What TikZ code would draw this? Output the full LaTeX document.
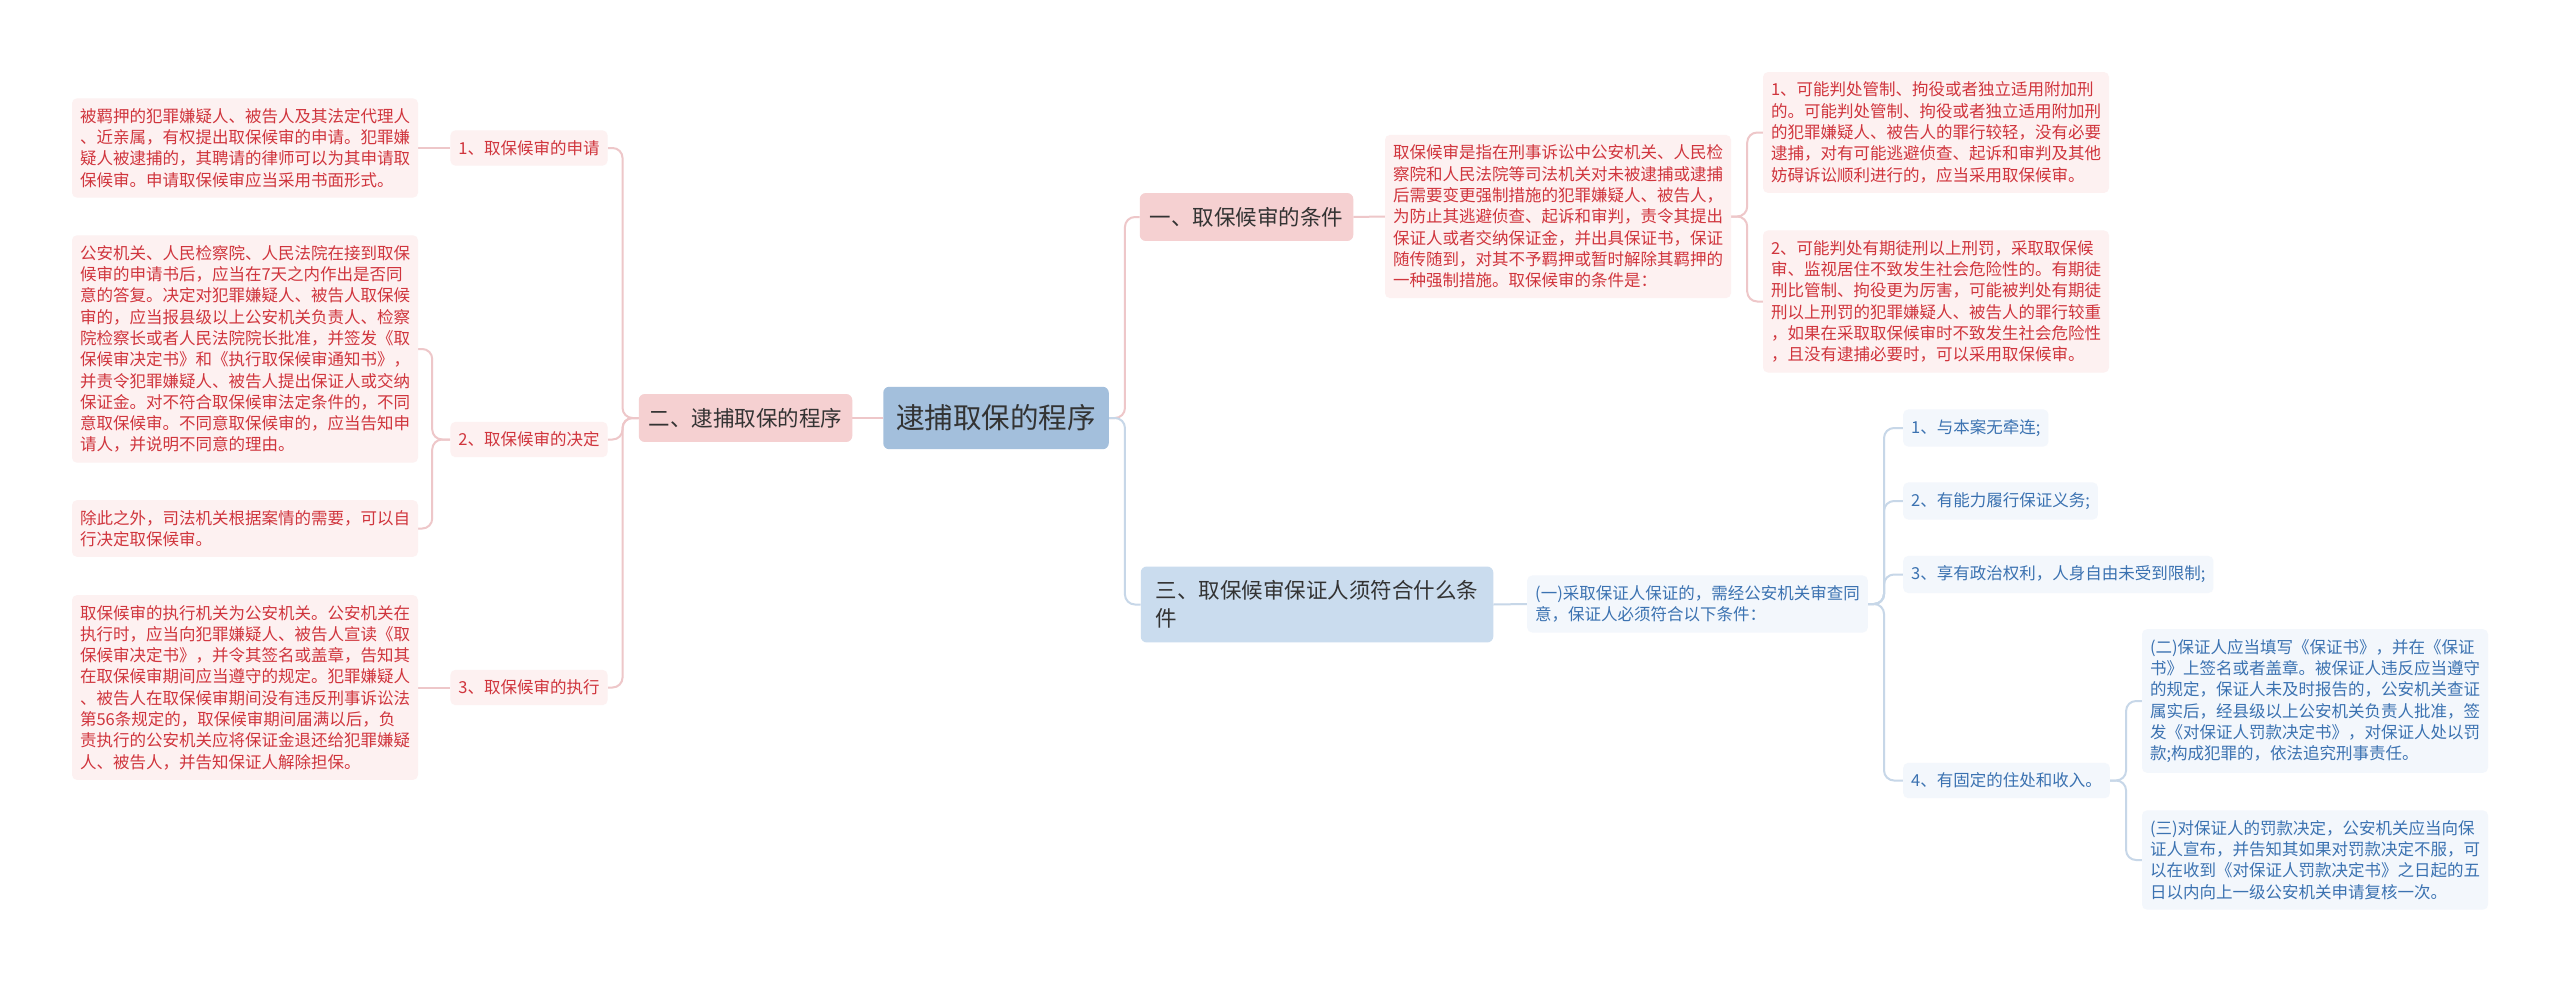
\documentclass[tikz,border=0pt]{standalone}
\usepackage{fontspec}
\setmainfont{Noto Sans CJK SC}
\usetikzlibrary{backgrounds}
\definecolor{leafpink}{HTML}{FDF1F1}
\definecolor{leafblue}{HTML}{F3F7FC}
\definecolor{redtext}{HTML}{D0353D}
\definecolor{bluetext}{HTML}{3B72B1}
\definecolor{darktext}{HTML}{333333}
\definecolor{lvlpinkfill}{HTML}{F5D0D1}
\definecolor{lvlbluefill}{HTML}{CADCEE}
\definecolor{rootfill}{HTML}{A3BFDC}
\definecolor{pinkline}{HTML}{EEC7C9}
\definecolor{blueline}{HTML}{C7D7E8}
\tikzset{
 pbox/.style={fill=leafpink, text=redtext, rounded corners=5pt, inner xsep=8pt, inner ysep=10pt, align=left, font=\fontsize{16.5pt}{21.3pt}\selectfont},
 bbox/.style={pbox, fill=leafblue, text=bluetext},
 lvlpink/.style={fill=lvlpinkfill, text=darktext, rounded corners=6pt, inner xsep=10pt, inner ysep=14pt, align=left, font=\fontsize{21.5pt}{28pt}\selectfont},
 lvlblue/.style={lvlpink, fill=lvlbluefill},
 rootbox/.style={fill=rootfill, text=darktext, rounded corners=6pt, inner xsep=13pt, inner ysep=18pt, font=\fontsize{28.5pt}{34pt}\selectfont},
 pline/.style={draw=pinkline, line width=2pt, rounded corners=10pt},
 bline/.style={pline, draw=blueline},
}
\begin{document}
\begin{tikzpicture}[x=1pt,y=-1pt]
\useasboundingbox (0,0) rectangle (2560,982);
% root and level one
\node[rootbox] (root) at (996,418) {逮捕取保的程序};
\node[lvlpink] (two) at (745.5,418) {二、逮捕取保的程序};
\node[lvlpink] (one) at (1246.5,217) {一、取保候审的条件};
\node[lvlblue, inner xsep=15pt] (three) at (1317,604.5) {三、取保候审保证人须符合什么条\\件};
% left branch
\node[pbox] (s1) at (529,148) {1、取保候审的申请};
\node[pbox] (s2) at (529,439.5) {2、取保候审的决定};
\node[pbox] (s3) at (529,687.5) {3、取保候审的执行};
\node[pbox] (A) at (245,148) {被羁押的犯罪嫌疑人、被告人及其法定代理人\\、近亲属，有权提出取保候审的申请。犯罪嫌\\疑人被逮捕的，其聘请的律师可以为其申请取\\保候审。申请取保候审应当采用书面形式。};
\node[pbox] (B) at (245,349) {公安机关、人民检察院、人民法院在接到取保\\候审的申请书后，应当在7天之内作出是否同\\意的答复。决定对犯罪嫌疑人、被告人取保候\\审的，应当报县级以上公安机关负责人、检察\\院检察长或者人民法院院长批准，并签发《取\\保候审决定书》和《执行取保候审通知书》，\\并责令犯罪嫌疑人、被告人提出保证人或交纳\\保证金。对不符合取保候审法定条件的，不同\\意取保候审。不同意取保候审的，应当告知申\\请人，并说明不同意的理由。};
\node[pbox] (C) at (245,528.5) {除此之外，司法机关根据案情的需要，可以自\\行决定取保候审。};
\node[pbox] (D) at (245,687.5) {取保候审的执行机关为公安机关。公安机关在\\执行时，应当向犯罪嫌疑人、被告人宣读《取\\保候审决定书》，并令其签名或盖章，告知其\\在取保候审期间应当遵守的规定。犯罪嫌疑人\\、被告人在取保候审期间没有违反刑事诉讼法\\第56条规定的，取保候审期间届满以后，负\\责执行的公安机关应将保证金退还给犯罪嫌疑\\人、被告人，并告知保证人解除担保。};
% right upper branch
\node[pbox] (E) at (1558,216.5) {取保候审是指在刑事诉讼中公安机关、人民检\\察院和人民法院等司法机关对未被逮捕或逮捕\\后需要变更强制措施的犯罪嫌疑人、被告人，\\为防止其逃避侦查、起诉和审判，责令其提出\\保证人或者交纳保证金，并出具保证书，保证\\随传随到，对其不予羁押或暂时解除其羁押的\\一种强制措施。取保候审的条件是：};
\node[pbox] (F1) at (1936,132.5) {1、可能判处管制、拘役或者独立适用附加刑\\的。可能判处管制、拘役或者独立适用附加刑\\的犯罪嫌疑人、被告人的罪行较轻，没有必要\\逮捕，对有可能逃避侦查、起诉和审判及其他\\妨碍诉讼顺利进行的，应当采用取保候审。};
\node[pbox] (F2) at (1936,301.5) {2、可能判处有期徒刑以上刑罚，采取取保候\\审、监视居住不致发生社会危险性的。有期徒\\刑比管制、拘役更为厉害，可能被判处有期徒\\刑以上刑罚的犯罪嫌疑人、被告人的罪行较重\\，如果在采取取保候审时不致发生社会危险性\\，且没有逮捕必要时，可以采用取保候审。};
% right lower branch
\node[bbox] (G) at (1697.5,604) {(一)采取保证人保证的，需经公安机关审查同\\意，保证人必须符合以下条件：};
\node[bbox, anchor=west] (H1) at (1903,428) {1、与本案无牵连;};
\node[bbox, anchor=west] (H2) at (1903,501) {2、有能力履行保证义务;};
\node[bbox, anchor=west] (H3) at (1903,574.5) {3、享有政治权利，人身自由未受到限制;};
\node[bbox, anchor=west] (H4) at (1903,780.5) {4、有固定的住处和收入。};
\node[bbox] (I1) at (2315,701) {(二)保证人应当填写《保证书》，并在《保证\\书》上签名或者盖章。被保证人违反应当遵守\\的规定，保证人未及时报告的，公安机关查证\\属实后，经县级以上公安机关负责人批准，签\\发《对保证人罚款决定书》，对保证人处以罚\\款;构成犯罪的，依法追究刑事责任。};
\node[bbox] (I2) at (2315,860) {(三)对保证人的罚款决定，公安机关应当向保\\证人宣布，并告知其如果对罚款决定不服，可\\以在收到《对保证人罚款决定书》之日起的五\\日以内向上一级公安机关申请复核一次。};
\begin{scope}[on background layer]
\fill[white] (0,0) rectangle (2560,982);
% root to level one
\draw[pline] (root.west) -- (two.east);
\draw[pline] (root.east) -- ++(16,0) |- (one.west);
\draw[bline] (root.east) -- ++(16,0) |- (three.west);
% left branch
\draw[pline] (two.west) -- ++(-16,0) |- (s1.east);
\draw[pline] (two.west) -- ++(-16,0) |- (s2.east);
\draw[pline] (two.west) -- ++(-16,0) |- (s3.east);
\draw[pline] (s1.west) -- (A.east);
\draw[pline] (s2.west) -- ++(-18,0) |- (B.east);
\draw[pline] (s2.west) -- ++(-18,0) |- (C.east);
\draw[pline] (s3.west) -- (D.east);
% right upper
\draw[pline] (one.east) -- (E.west);
\draw[pline] (E.east) -- ++(16,0) |- (F1.west);
\draw[pline] (E.east) -- ++(16,0) |- (F2.west);
% right lower
\draw[bline] (three.east) -- (G.west);
\draw[bline] (G.east) -- ++(16,0) |- (H1.west);
\draw[bline] (G.east) -- ++(16,0) |- (H2.west);
\draw[bline] (G.east) -- ++(16,0) |- (H3.west);
\draw[bline] (G.east) -- ++(16,0) |- (H4.west);
\draw[bline] (H4.east) -- ++(16,0) |- (I1.west);
\draw[bline] (H4.east) -- ++(16,0) |- (I2.west);
\end{scope}
\end{tikzpicture}
\end{document}
